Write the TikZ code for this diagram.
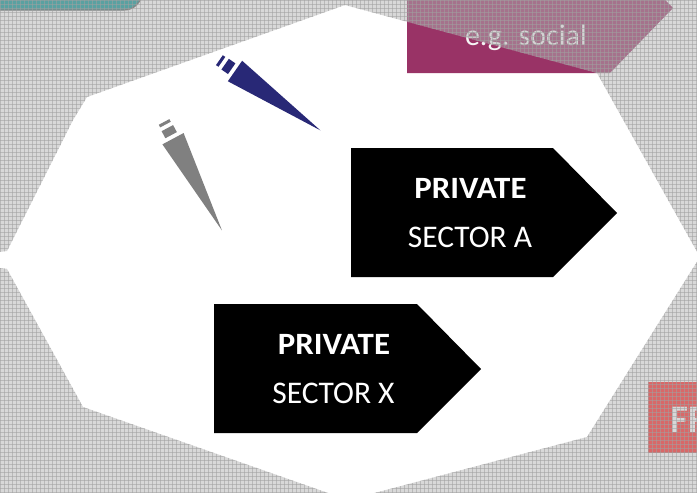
\documentclass[tikz,border=0pt]{standalone}
\usepackage{fontspec}
\setmainfont{Carlito}
\begin{document}
\begin{tikzpicture}[x=1pt,y=-1pt,
  arrowbox/.style={fill=black},
  boldlbl/.style={text=white, anchor=base, inner sep=0pt, font=\bfseries\fontsize{31}{36}\selectfont},
  reglbl/.style={text=white, anchor=base, inner sep=0pt, font=\fontsize{31.5}{36}\selectfont},
  gridline/.style={draw=gridc, line width=0.6pt, opacity=0.55}]
\definecolor{bgpat}{RGB}{178,178,178}
\definecolor{gridc}{RGB}{160,160,160}
\definecolor{magentac}{RGB}{153,51,102}
\definecolor{tealc}{RGB}{0,145,145}
\definecolor{redc}{RGB}{255,30,30}
\definecolor{navyc}{RGB}{40,40,118}
\definecolor{markgray}{RGB}{128,128,128}
\useasboundingbox (0,0) rectangle (697,493);
\fill[white] (0,0) rectangle (697,493);
% background shapes
\draw[fill=tealc, draw=black!65, line width=1.2pt, rounded corners=18pt] (-30,-40) rectangle (142,10);
\fill[magentac] (407,-57) -- (610,-57) -- (673,8) -- (610,73) -- (407,73) -- cycle;
\node[text=white!92!gray, anchor=base, inner sep=0pt, font=\fontsize{30}{34}\selectfont] (social) at (526,45) {e.g. social};
\fill[redc] (648,382) rectangle (720,453);
\node[text=white, anchor=base west, inner sep=0pt, font=\bfseries\fontsize{39}{44}\selectfont] (ff) at (670,432) {FF};
% textured overlay outside the white region
\begin{scope}[even odd rule]
\clip (-10,-10) rectangle (710,510)
  (345,5) -- (597,73) -- (700,257) -- (587,437) -- (348,500) -- (83,407) -- (7,269) -- (-1,268) -- (-1,252) -- (7,251) -- (73,120) -- (87,97) -- cycle;
\fill[bgpat, opacity=0.5] (-10,-10) rectangle (710,510);
\foreach \i in {0,4,...,700} \draw[gridline] (\i,-5) -- (\i,500);
\foreach \j in {0,4,...,496} \draw[gridline] (-5,\j) -- (705,\j);
\end{scope}
% markers
\begin{scope}[shift={(235,71)}, rotate=-34.8]
\fill[navyc] (0,-12.5) -- (0,12.5) -- (104,0) -- cycle;
\fill[navyc] (-12,-6.5) rectangle (-4,6.5);
\fill[navyc] (-19,-6) rectangle (-16,6);
\end{scope}
\begin{scope}[shift={(173,138.7)}, rotate=-61.9]
\fill[markgray] (0,-12) -- (0,12) -- (104,0) -- cycle;
\fill[markgray] (-12,-6.5) rectangle (-4,6.5);
\fill[markgray] (-19,-6) rectangle (-16,6);
\end{scope}
% private sector arrows
\fill[arrowbox] (351,148) -- (553,148) -- (617,213) -- (553,277) -- (351,277) -- cycle;
\node[boldlbl] (pa) at (470.5,198) {\scalebox{1.06}[1]{PRIVATE}};
\node[reglbl] (sa) at (470,247) {SECTOR A};
\fill[arrowbox] (214,304) -- (417,304) -- (481,369) -- (417,433) -- (214,433) -- cycle;
\node[boldlbl] (px) at (334,354) {\scalebox{1.06}[1]{PRIVATE}};
\node[reglbl] (sx) at (333.5,403) {SECTOR X};
\end{tikzpicture}
\end{document}
